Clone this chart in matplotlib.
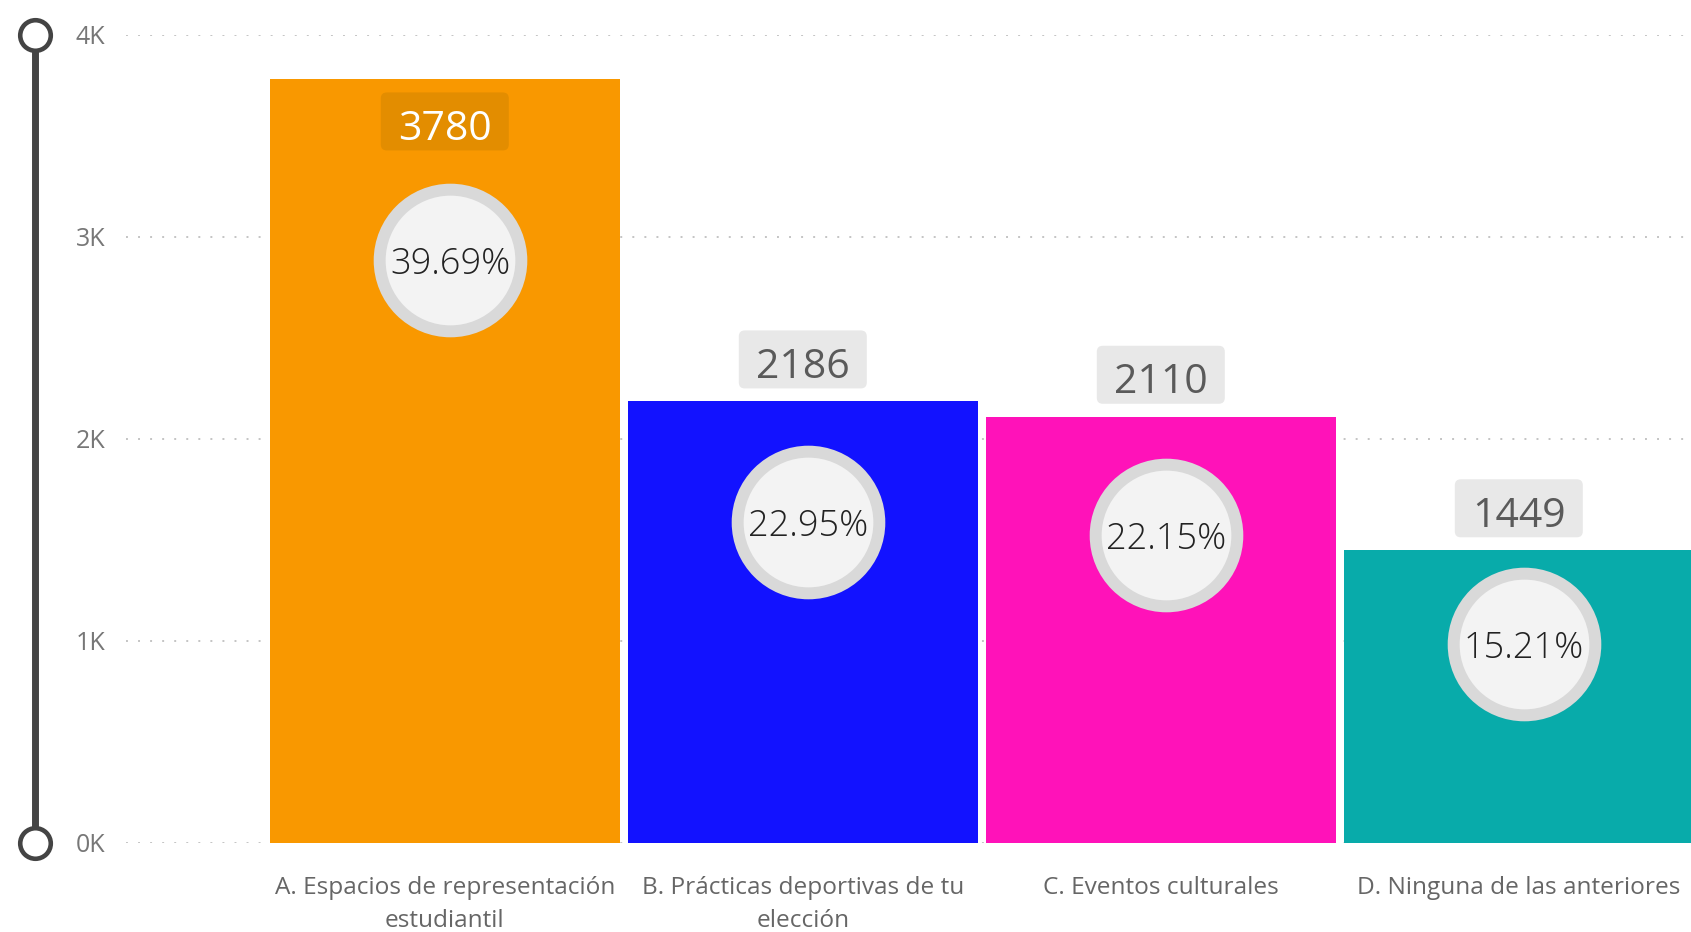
import textwrap
import numpy as np
import matplotlib
matplotlib.use("Agg")
import matplotlib.pyplot as plt
from matplotlib.patches import FancyBboxPatch
from matplotlib.transforms import blended_transform_factory

categories = ["A. Espacios de representación estudiantil",
              "B. Prácticas deportivas de tu elección",
              "C. Eventos culturales",
              "D. Ninguna de las anteriores"]
counts = [3780, 2186, 2110, 1449]
percents = [39.69, 22.95, 22.15, 15.21]
bar_colors = ["#F99800", "#1212FF", "#FF12B9", "#08ABAA"]
yticks = [0, 1000, 2000, 3000, 4000]

plt.rcParams['font.family'] = ['Open Sans', 'DejaVu Sans']

W, H = 1691, 932
fig = plt.figure(figsize=(W / 100, H / 100), dpi=100)
ax = fig.add_axes([126 / W, 1 - 843 / H, 1 - 126 / W, (843 - 35) / H])

x = np.arange(len(categories))
ax.bar(x, counts, width=0.976, color=bar_colors, zorder=2)
ax.set_xlim(-0.8905, 3.481)
ax.set_ylim(0, 4000)

# dotted grid
ax.set_yticks(yticks)
ax.set_yticklabels([f"{int(v / 1000)}K" for v in yticks])
ax.yaxis.grid(True, color="#C4C4C4", linewidth=1.4, linestyle=(0, (1, 5.2)))
ax.set_axisbelow(True)
ax.tick_params(axis='y', length=0, pad=15, labelsize=18, labelcolor="#777777")
ax.set_xticks([])
for s in ax.spines.values():
    s.set_visible(False)

# x labels
for i, name in enumerate(categories):
    ax.annotate(textwrap.fill(name, 29), xy=(i, 0), xytext=(0, -24),
                textcoords="offset points", ha="center", va="top",
                fontsize=17.6, color="#666666", linespacing=1.5)

# left slider line
bt = blended_transform_factory(ax.transAxes, ax.transData)
ax.plot([-0.0581, -0.0581], [0, 4000], color="#444444", lw=5, transform=bt,
        clip_on=False, solid_capstyle="butt", zorder=3)
ax.plot([-0.0581, -0.0581], [0, 4000], ls="none", marker="o", ms=22,
        mfc="white", mec="#444444", mew=3.3, transform=bt, clip_on=False, zorder=4)

# value labels in rounded boxes
fig.canvas.draw()
for i, v in enumerate(counts):
    px, py = ax.transData.transform((i, v))
    inside = v > 3500
    cy = py - 42 if inside else py + 42
    fc = "#E38D00" if inside else "#E8E8E8"
    tc = "white" if inside else "#5A5A5A"
    box = FancyBboxPatch((px - 64 + 6, cy - 29 + 6), 128 - 12, 58 - 12,
                         boxstyle="round,pad=6", fc=fc, ec="none",
                         transform=None, zorder=5)
    fig.patches.append(box)
    fig.text(px / W, (cy - 3) / H, str(v), ha="center", va="center_baseline",
             fontsize=29.5, color=tc, zorder=6)

# percentage circles on a secondary scale
ax2 = ax.twinx()
ax2.set_ylim(2.5, 54.0)
ax2.axis("off")
ax2.scatter(x + 0.015, percents, s=102 ** 2, c="#F3F3F3", edgecolors="#D9D9D9",
            linewidths=8.6, zorder=5, clip_on=False)
for i, p in enumerate(percents):
    ax2.text(i + 0.015, p, f"{p:.2f}%", ha="center", va="center_baseline",
             fontsize=26, color="#222222", fontweight="light", zorder=6)

fig.savefig("out.png", dpi=100)
